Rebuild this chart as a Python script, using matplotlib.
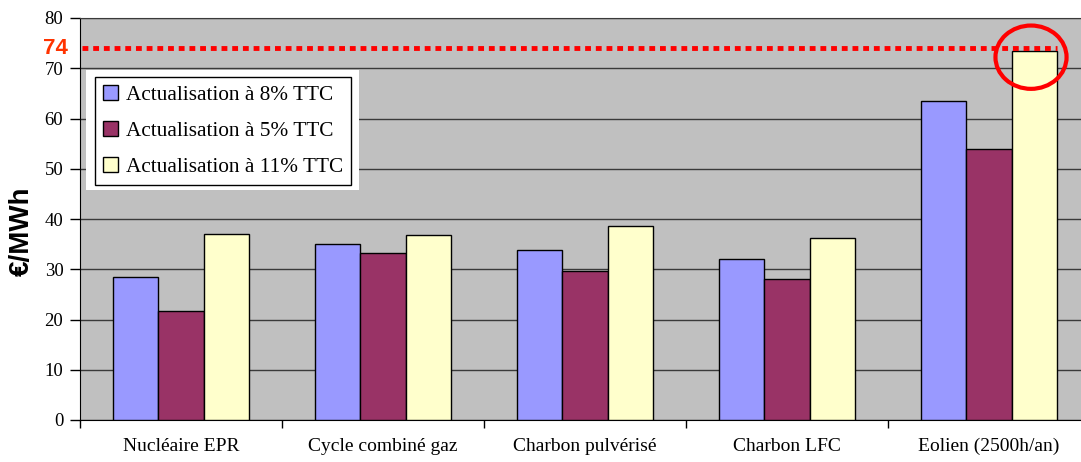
import matplotlib
matplotlib.use("Agg")
import matplotlib.pyplot as plt
import numpy as np
from matplotlib.patches import Ellipse, Rectangle

categories = ["Nucléaire EPR", "Cycle combiné gaz", "Charbon pulvérisé", "Charbon LFC", "Eolien (2500h/an)"]
series_names = ["Actualisation à 8% TTC", "Actualisation à 5% TTC", "Actualisation à 11% TTC"]
vals_8 = [28.5, 35.1, 33.8, 32.0, 63.4]
vals_5 = [21.6, 33.3, 29.6, 28.0, 54.0]
vals_11 = [37.0, 36.8, 38.6, 36.3, 73.5]
ref_value = 74
yticks = [0, 10, 20, 30, 40, 50, 60, 70, 80]

colors = ["#9999FF", "#993366", "#FFFFCC"]

W, H = 1081, 462
fig = plt.figure(figsize=(W / 100, H / 100), dpi=100)
AX_L, AX_B, AX_W, AX_H = 80, 42, 1010, 402
ax = fig.add_axes([AX_L / W, AX_B / H, AX_W / W, AX_H / H])
ax.set_facecolor("#C0C0C0")

x = np.arange(len(categories))
w = 0.224
series = [vals_8, vals_5, vals_11]
for i, (vals, c, name) in enumerate(zip(series, colors, series_names)):
    ax.bar(x + (i - 1) * w, vals, width=w, color=c, edgecolor="black",
           linewidth=1.0, label=name, zorder=3)

ax.set_xlim(-0.5, len(categories) - 0.5)
ax.set_ylim(0, 80)
ax.set_yticks(yticks)
ax.set_yticklabels([str(t) for t in yticks], fontfamily="Liberation Serif", fontsize=13.5)
ax.yaxis.grid(True, color="#3a3a3a", linewidth=1.0, zorder=1)
ax.set_axisbelow(True)

ax.set_xticks(np.arange(len(categories) + 1) - 0.5, minor=False)
ax.set_xticklabels([])
ax.set_xticks(x, minor=True)
ax.set_xticklabels(categories, minor=True, fontfamily="Liberation Serif", fontsize=14)
ax.tick_params(axis="x", which="minor", length=0, pad=13)
ax.tick_params(axis="x", which="major", length=6, width=1, direction="out")
ax.tick_params(axis="y", length=7, width=1, direction="out", pad=5)

for s in ["top", "right"]:
    ax.spines[s].set_color("#3a3a3a")
for s in ["left", "bottom"]:
    ax.spines[s].set_color("black")

fig.text(22 / W, 1 - 231 / H, "€/MWh", fontfamily="Liberation Sans", fontweight="bold",
         fontsize=20, rotation=90, ha="center", va="center")

# reference dotted line
ax.plot([-0.49, x[-1] + 1.5 * w], [ref_value, ref_value], color="#FF0000",
        linestyle=(0, (1.2, 1.0)), linewidth=3.5, zorder=5, clip_on=False)
ax.text(-0.562, ref_value, str(ref_value), color="#FF3300", fontweight="bold",
        fontfamily="Liberation Sans", fontsize=16, ha="right", va="center",
        clip_on=False)

# circle annotation
ell = Ellipse((x[-1] + 0.208, 72.2), width=0.352, height=12.6, fill=False,
              edgecolor="#FF0000", linewidth=3.0, zorder=6, clip_on=False)
ax.add_patch(ell)

# white backing behind legend
ax.add_patch(Rectangle((86, H - 190), 359 - 86, 190 - 70, transform=None,
                       facecolor="white", edgecolor="none", zorder=7))

leg = ax.legend(loc="upper left",
                bbox_to_anchor=((95 - AX_L) / AX_W, (AX_H - (77 - 18)) / AX_H),
                prop={"family": "Liberation Serif", "size": 15.3},
                frameon=True, fancybox=False, edgecolor="black",
                framealpha=1, handlelength=0.68, handleheight=0.72,
                handletextpad=0.38, labelspacing=0.74, borderpad=0.38,
                borderaxespad=0)
leg.get_frame().set_linewidth(1.0)
leg.set_zorder(8)

fig.savefig("out.png", dpi=100, facecolor="white")
